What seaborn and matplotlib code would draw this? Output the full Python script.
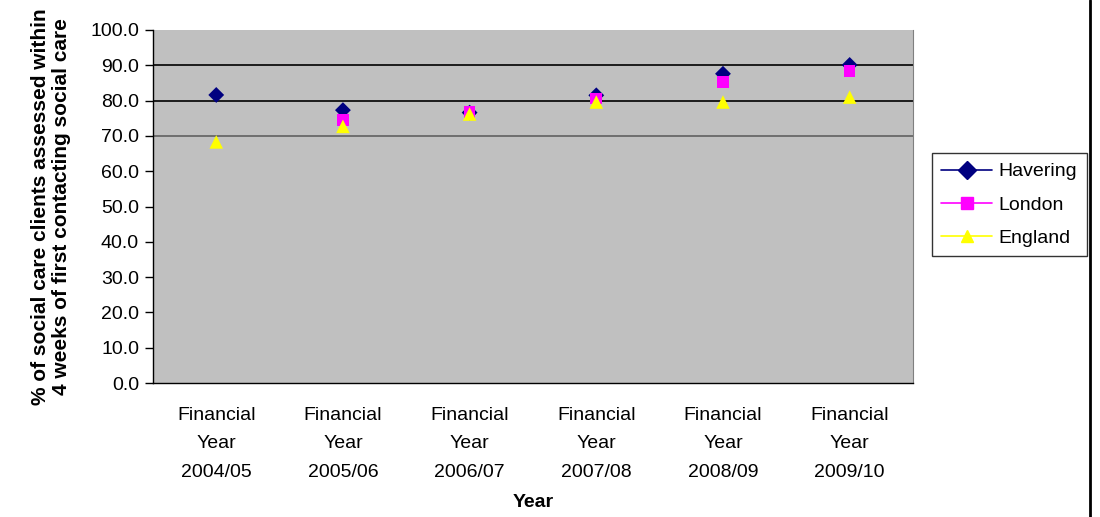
import numpy as np
import pandas as pd
import matplotlib
matplotlib.use("Agg")
import matplotlib.pyplot as plt
import seaborn as sns
from matplotlib.lines import Line2D

# ── data ──
years = ["Financial\nYear\n2004/05", "Financial\nYear\n2005/06", "Financial\nYear\n2006/07",
         "Financial\nYear\n2007/08", "Financial\nYear\n2008/09", "Financial\nYear\n2009/10"]
havering = [81.6, 77.3, 76.6, 81.5, 87.6, 90.1]
london = [np.nan, 74.5, 76.8, 80.6, 85.3, 88.3]
england = [68.3, 72.7, 76.2, 79.6, 79.6, 81.0]
series = ["Havering", "London", "England"]
colors = {"Havering": "#000080", "London": "#FF00FF", "England": "#FFFF00"}
markers = {"Havering": "D", "London": "s", "England": "^"}
yticks = [0, 10, 20, 30, 40, 50, 60, 70, 80, 90, 100]
gridvals = [70, 80, 90]

df = pd.DataFrame({
    "pos": list(range(len(years))) * 3,
    "value": havering + london + england,
    "area": sum([[s] * len(years) for s in series], []),
}).dropna()

sns.set_style("white")
plt.rcParams["font.family"] = ["Liberation Sans", "DejaVu Sans"]
plt.rcParams["text.color"] = "black"
plt.rcParams["axes.labelcolor"] = "black"
plt.rcParams["xtick.color"] = "black"
plt.rcParams["ytick.color"] = "black"

fig = plt.figure(figsize=(11, 5.17), dpi=100)
ax = fig.add_axes([0.139, 0.259, 0.691, 0.683])
ax.set_facecolor("#C0C0C0")

for g in gridvals:
    ax.axhline(g, color="black" if g > 70 else "#606060", lw=1.2, zorder=1)

sizes = {"Havering": 65, "London": 70, "England": 95}
for s in series:
    sub = df[df["area"] == s]
    sns.scatterplot(data=sub, x="pos", y="value", color=colors[s], marker=markers[s],
                    s=sizes[s], edgecolor="none", ax=ax, zorder=3, legend=False)

ax.set_xlim(-0.5, len(years) - 0.5)
ax.set_ylim(0, 100)
ax.set_yticks(yticks)
ax.set_yticklabels([f"{v:.1f}" for v in yticks], fontsize=14)
ax.set_xticks(range(len(years)))
ax.set_xticklabels(years, fontsize=14, linespacing=1.9)
ax.set_xticks(np.arange(-0.5, len(years), 1), minor=True)
ax.tick_params(axis="x", which="major", length=0, pad=17)
ax.tick_params(axis="x", which="minor", length=6, width=1, color="black", direction="out")
ax.tick_params(axis="y", length=6, width=1, color="black", direction="out", left=True, pad=4)

ax.set_xlabel("Year", fontsize=14, fontweight="bold", labelpad=9)
ax.set_ylabel("% of social care clients assessed within\n4 weeks of first contacting social care",
              fontsize=15, fontweight="bold", labelpad=14, linespacing=1.1)

for side in ["left", "bottom"]:
    ax.spines[side].set_color("black")
    ax.spines[side].set_linewidth(1)
ax.spines["right"].set_color("#808080")
ax.spines["top"].set_visible(False)

handles = [Line2D([0], [0], color=colors[s], marker=markers[s], markersize=9,
                  markerfacecolor=colors[s], markeredgecolor=colors[s], lw=1.2)
           for s in series]
leg = fig.legend(handles, series, loc="upper left", bbox_to_anchor=(0.847, 0.704),
                 borderaxespad=0, fontsize=14, frameon=True, fancybox=False, edgecolor="black",
                 handlelength=2.6, borderpad=0.5, labelspacing=0.8, handletextpad=0.35)
leg.get_frame().set_linewidth(1)

fig.add_artist(Line2D([0.991, 0.991], [0, 1], color="black", lw=2, transform=fig.transFigure))

fig.savefig("out.png", dpi=100)
